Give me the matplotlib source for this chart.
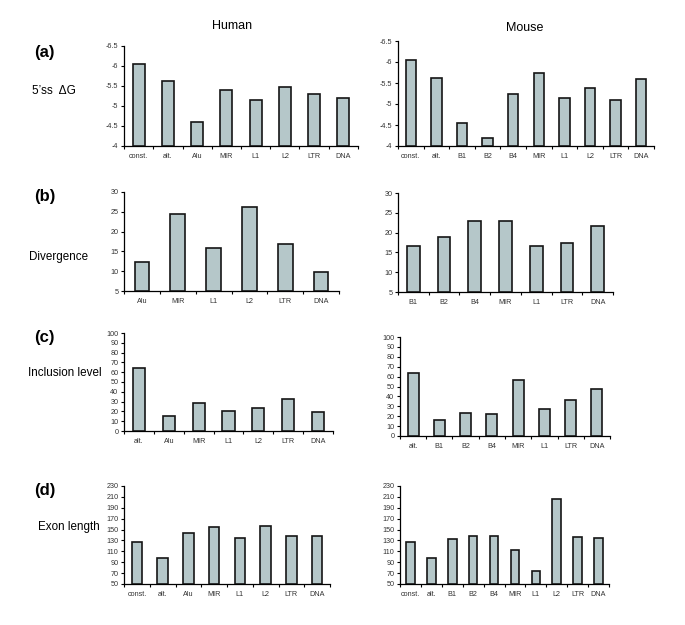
import matplotlib
matplotlib.use("Agg")
import matplotlib.pyplot as plt
import numpy as np

plt.rcParams['font.family'] = ['Liberation Sans', 'DejaVu Sans']

# ---- data ----
a_human_cats = ["const.", "alt.", "Alu", "MIR", "L1", "L2", "LTR", "DNA"]
a_human_vals = [-6.04, -5.62, -4.61, -5.41, -5.15, -5.48, -5.29, -5.19]
a_mouse_cats = ["const.", "alt.", "B1", "B2", "B4", "MIR", "L1", "L2", "LTR", "DNA"]
a_mouse_vals = [-6.05, -5.62, -4.55, -4.18, -5.24, -5.75, -5.15, -5.37, -5.10, -5.60]

b_human_cats = ["Alu", "MIR", "L1", "L2", "LTR", "DNA"]
b_human_vals = [12.4, 24.5, 15.9, 26.1, 16.9, 9.8]
b_mouse_cats = ["B1", "B2", "B4", "MIR", "L1", "LTR", "DNA"]
b_mouse_vals = [16.7, 18.8, 23.0, 23.0, 16.6, 17.4, 21.6]

c_human_cats = ["alt.", "Alu", "MIR", "L1", "L2", "LTR", "DNA"]
c_human_vals = [64.2, 14.9, 28.7, 20.6, 23.0, 32.4, 19.3]
c_mouse_cats = ["alt.", "B1", "B2", "B4", "MIR", "L1", "LTR", "DNA"]
c_mouse_vals = [64.0, 16.6, 23.4, 22.7, 57.0, 27.5, 35.9, 47.5]

d_human_cats = ["const.", "alt.", "Alu", "MIR", "L1", "L2", "LTR", "DNA"]
d_human_vals = [126.8, 97.3, 143.4, 155.0, 135.4, 156.9, 139.0, 137.8]
d_mouse_cats = ["const.", "alt.", "B1", "B2", "B4", "MIR", "L1", "L2", "LTR", "DNA"]
d_mouse_vals = [126.8, 97.9, 133.5, 139.0, 137.8, 112.0, 74.6, 205.4, 136.0, 134.2]

a_ticks = [-6.5, -6, -5.5, -5, -4.5, -4]
a_ticklabels = ["-6.5", "-6", "-5.5", "-5", "-4.5", "-4"]
b_ticks = [5, 10, 15, 20, 25, 30]
c_ticks = list(range(0, 101, 10))
d_ticks = list(range(50, 231, 20))

BAR = "#b5c7c9"
W, H = 685, 625

fig = plt.figure(figsize=(W / 100, H / 100), dpi=100)


def add_ax(left, top, right, bottom):
    return fig.add_axes([left / W, 1 - bottom / H, (right - left) / W, (bottom - top) / H])


def panel(box, cats, vals, ticks, ticklabels, ylim, base, invert=False):
    ax = add_ax(*box)
    n = len(cats)
    x = np.arange(n) + 0.5
    vals = np.asarray(vals)
    ax.bar(x, vals - base, bottom=base, width=0.41, color=BAR,
           edgecolor="#151515", linewidth=1.2, zorder=3)
    ax.set_xlim(0, n)
    ax.set_ylim(*ylim)
    if invert:
        ax.invert_yaxis()
    ax.set_xticks(np.arange(n + 1))
    ax.set_xticklabels([])
    ax.set_xticks(x, minor=True)
    ax.set_xticklabels(cats, minor=True, fontsize=5.2, color="#333333")
    ax.tick_params(axis="x", which="minor", length=0, pad=5)
    ax.tick_params(axis="x", which="major", length=2.5, width=0.8, direction="out")
    ax.set_yticks(ticks)
    ax.set_yticklabels(ticklabels, fontsize=5.2, color="#333333")
    ax.tick_params(axis="y", length=2.5, width=0.8, direction="out", pad=1.5)
    for s in ["top", "right"]:
        ax.spines[s].set_visible(False)
    for s in ["left", "bottom"]:
        ax.spines[s].set_linewidth(0.9)
    return ax


panel((124, 46, 358, 146), a_human_cats, a_human_vals, a_ticks, a_ticklabels, (-4, -6.5), -4)
panel((398, 41, 654, 146), a_mouse_cats, a_mouse_vals, a_ticks, a_ticklabels, (-4, -6.5), -4)

panel((124, 192, 339, 291), b_human_cats, b_human_vals, b_ticks, [str(t) for t in b_ticks], (5, 30), 5)
panel((398, 193, 613, 292), b_mouse_cats, b_mouse_vals, b_ticks, [str(t) for t in b_ticks], (5, 30), 5)

panel((124, 333, 333, 431), c_human_cats, c_human_vals, c_ticks, [str(t) for t in c_ticks], (0, 100), 0)
panel((400, 337, 610, 436), c_mouse_cats, c_mouse_vals, c_ticks, [str(t) for t in c_ticks], (0, 100), 0)

panel((124, 486, 330, 584), d_human_cats, d_human_vals, d_ticks, [str(t) for t in d_ticks], (50, 230), 50)
panel((400, 486, 609, 584), d_mouse_cats, d_mouse_vals, d_ticks, [str(t) for t in d_ticks], (50, 230), 50)

# ---- annotations ----
def ftext(x, y, s, **kw):
    fig.text(x / W, 1 - y / H, s, **kw)

ftext(232, 26, "Human", ha="center", va="center", fontsize=9)
ftext(525, 28, "Mouse", ha="center", va="center", fontsize=9)

for lab, yy in [("(a)", 52), ("(b)", 196), ("(c)", 338), ("(d)", 491)]:
    ftext(34, yy, lab, ha="left", va="center", fontsize=12, fontweight="bold")

ftext(32, 91, "5\u2019ss  \u0394G", ha="left", va="center", fontsize=8.6)
ftext(29, 257, "Divergence", ha="left", va="center", fontsize=8.4)
ftext(28, 373, "Inclusion level", ha="left", va="center", fontsize=8.4)
ftext(38, 527, "Exon length", ha="left", va="center", fontsize=8.4)

fig.savefig("out.png", dpi=100, facecolor="white")
